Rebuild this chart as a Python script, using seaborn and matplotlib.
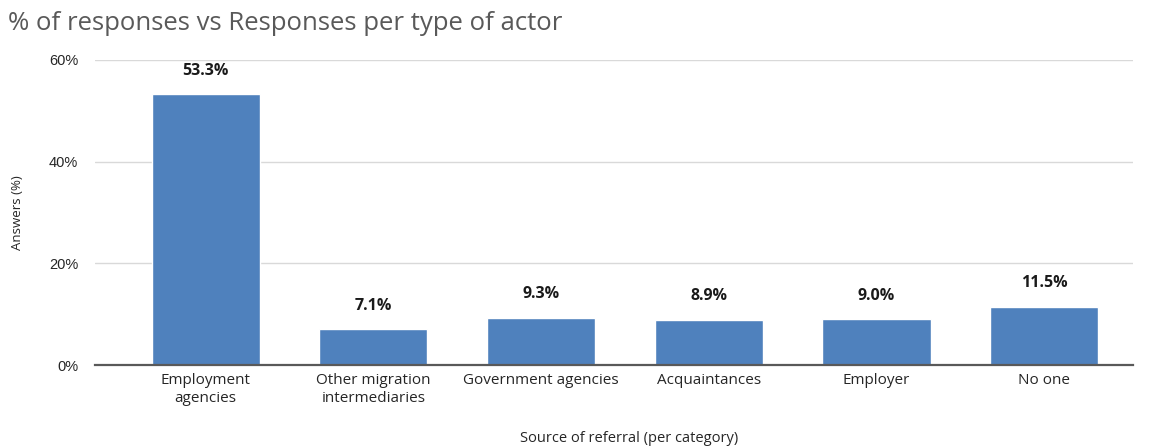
import matplotlib
matplotlib.use("Agg")
import matplotlib.pyplot as plt
import seaborn as sns
import pandas as pd
from matplotlib.ticker import PercentFormatter

# datos
categorias = ["Employment\nagencies", "Other migration\nintermediaries", "Government agencies",
              "Acquaintances", "Employer", "No one"]
porcentajes = [53.3, 7.1, 9.3, 8.9, 9.0, 11.5]
etiquetas = ["53.3%", "7.1%", "9.3%", "8.9%", "9.0%", "11.5%"]

df = pd.DataFrame({"categoria": categorias, "pct": porcentajes})

sns.set_style("white")
plt.rcParams["font.family"] = ["Open Sans", "DejaVu Sans"]

fig = plt.figure(figsize=(11.52, 4.47), dpi=100)
ax = fig.add_axes([0.0825, 0.1834, 0.901, 0.6826])

sns.barplot(data=df, x="categoria", y="pct", color="#4F81BD", saturation=1,
            width=0.645, ax=ax, zorder=3)

# etiquetas de valor
for i, (v, t) in enumerate(zip(porcentajes, etiquetas)):
    ax.annotate(t, (i, v), xytext=(0, 11), textcoords="offset points",
                ha="center", va="bottom", fontsize=11.5, fontweight="bold", color="#1a1a1a")

ax.set_ylim(0, 60)
ax.set_xlim(-0.66, 5.53)
ax.set_yticks([0, 20, 40, 60])
ax.yaxis.set_major_formatter(PercentFormatter(decimals=0))
ax.grid(axis="y", color="#d9d9d9", linewidth=1, zorder=0)
for s in ["top", "right", "left"]:
    ax.spines[s].set_visible(False)
ax.spines["bottom"].set_color("#595959")
ax.spines["bottom"].set_linewidth(1.6)
ax.spines["bottom"].set_zorder(4)
ax.tick_params(axis="x", length=0, labelsize=11, labelcolor="#262626", pad=6)
ax.tick_params(axis="y", length=0, labelsize=10.5, labelcolor="#262626", pad=12)
for lab in ax.get_yticklabels():
    lab.set_family(["Liberation Sans", "DejaVu Sans"])

ax.set_ylabel("Answers (%)", fontsize=9.5, color="#262626", labelpad=18)
ax.set_xlabel("Source of referral (per category)", fontsize=10.5, color="#262626")
ax.xaxis.set_label_coords(0.515, -0.215)

fig.text(0.007, 0.948, "% of responses vs Responses per type of actor", fontsize=18.5,
         color="#595959", ha="left", va="center")

fig.savefig("out.png", dpi=100)
